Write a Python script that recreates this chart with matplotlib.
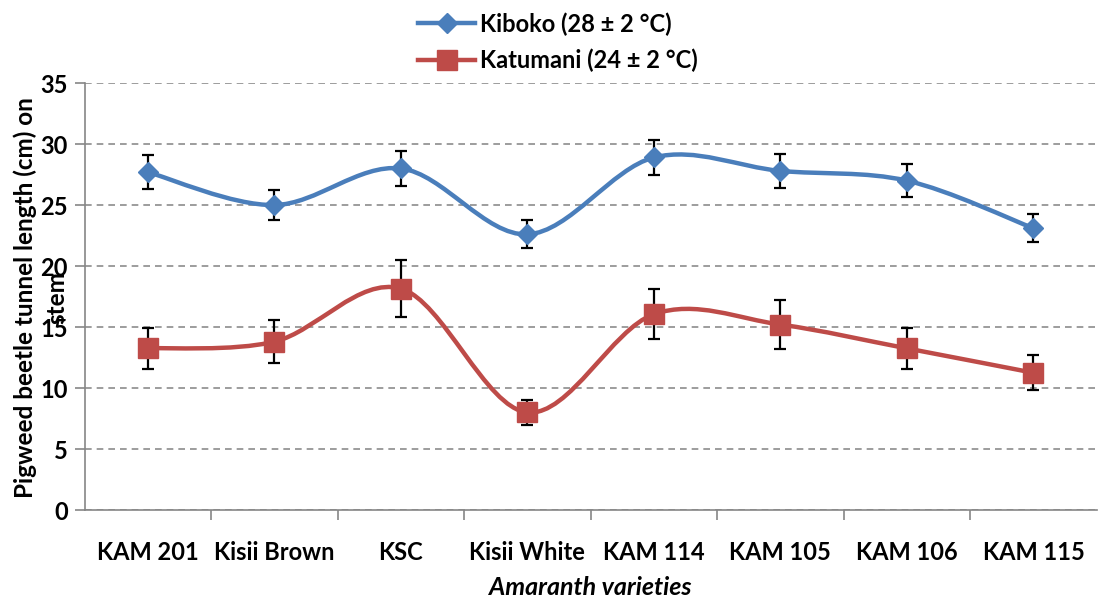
import matplotlib.pyplot as plt
from matplotlib.path import Path
from matplotlib.patches import PathPatch
from matplotlib.lines import Line2D
import numpy as np

plt.rcParams['font.family'] = ['Lato', 'DejaVu Sans']

varieties = ["KAM 201", "Kisii Brown", "KSC", "Kisii White",
             "KAM 114", "KAM 105", "KAM 106", "KAM 115"]
kiboko = [27.7, 25.0, 28.0, 22.6, 28.9, 27.8, 27.0, 23.1]
kiboko_err = [1.4, 1.2, 1.4, 1.15, 1.4, 1.4, 1.35, 1.15]
katumani = [13.25, 13.8, 18.15, 8.0, 16.05, 15.2, 13.25, 11.25]
katumani_err = [1.7, 1.75, 2.35, 1.05, 2.05, 2.0, 1.7, 1.45]

blue = "#4A7EBB"
red = "#BE4B48"


def smooth_path(xs, ys):
    # excel-like smoothed line : bezier through every point
    pts = np.column_stack([xs, ys]).astype(float)
    n = len(pts)
    verts = [pts[0]]
    codes = [Path.MOVETO]
    for i in range(n - 1):
        p0 = pts[i - 1] if i > 0 else pts[i]
        p1 = pts[i]
        p2 = pts[i + 1]
        p3 = pts[i + 2] if i + 2 < n else pts[i + 1]
        c1 = p1 + (p2 - p0) / 6.0
        c2 = p2 - (p3 - p1) / 6.0
        verts += [c1, c2, p2]
        codes += [Path.CURVE4] * 3
    return Path(verts, codes)


fig = plt.figure(figsize=(11.05, 6.02), dpi=100)
ax = fig.add_axes([0.0765, 0.1528, 0.916, 0.7092])

x = np.arange(len(varieties))

for vals, errs, col, mk, ms in [(kiboko, kiboko_err, blue, "D", 10),
                               (katumani, katumani_err, red, "s", 14)]:
    ax.add_patch(PathPatch(smooth_path(x, vals), facecolor="none",
                           edgecolor=col, lw=3.2, zorder=3))
    ax.errorbar(x, vals, yerr=errs, fmt="none", ecolor="black",
                elinewidth=1.6, capsize=4, capthick=1.6, zorder=4)
    ax.plot(x, vals, linestyle="none", marker=mk, markersize=ms,
            color=col, zorder=5)

ax.set_xlim(-0.5, len(varieties) - 0.5)
ax.set_ylim(0, 35)
ax.set_yticks(range(0, 36, 5))
ax.set_xticks(x)
ax.set_xticklabels(varieties, fontsize=17, fontweight="bold")
ax.set_xticks(np.arange(0.5, len(varieties) - 0.5, 1), minor=True)
ax.tick_params(axis="x", which="major", length=0, pad=22)
ax.tick_params(axis="x", which="minor", length=7, color="#868686", width=1.2)
ax.tick_params(axis="y", length=7, color="#868686", width=1.2, labelsize=17,
               pad=5)
for lab in ax.get_yticklabels():
    lab.set_fontweight("bold")

ax.grid(axis="y", linestyle=(0, (4, 3)), color="#8c8c8c", lw=1.2)
ax.set_axisbelow(True)
for s in ["top", "right"]:
    ax.spines[s].set_visible(False)
for s in ["left", "bottom"]:
    ax.spines[s].set_color("#868686")
    ax.spines[s].set_linewidth(1.2)

ax.set_xlabel("Amaranth varieties", fontsize=18, fontweight="bold",
              style="italic", labelpad=9)
fig.text(0.037, 0.505, "Pigweed beetle tunnel length (cm) on\nstem",
         rotation=90, ha="center", va="center", fontsize=17.5,
         fontweight="bold", linespacing=1.45)

handles = [Line2D([], [], color=blue, lw=3.2, marker="D", markersize=10),
           Line2D([], [], color=red, lw=3.2, marker="s", markersize=14)]
fig.legend(handles, ["Kiboko (28 ± 2 °C)", "Katumani (24 ± 2 °C)"],
           loc="upper center", bbox_to_anchor=(0.505, 1.015), frameon=False,
           prop={"size": 17, "weight": "bold"}, handlelength=2.4,
           handletextpad=0.2, labelspacing=0.55)

plt.savefig("out.png", dpi=100)
